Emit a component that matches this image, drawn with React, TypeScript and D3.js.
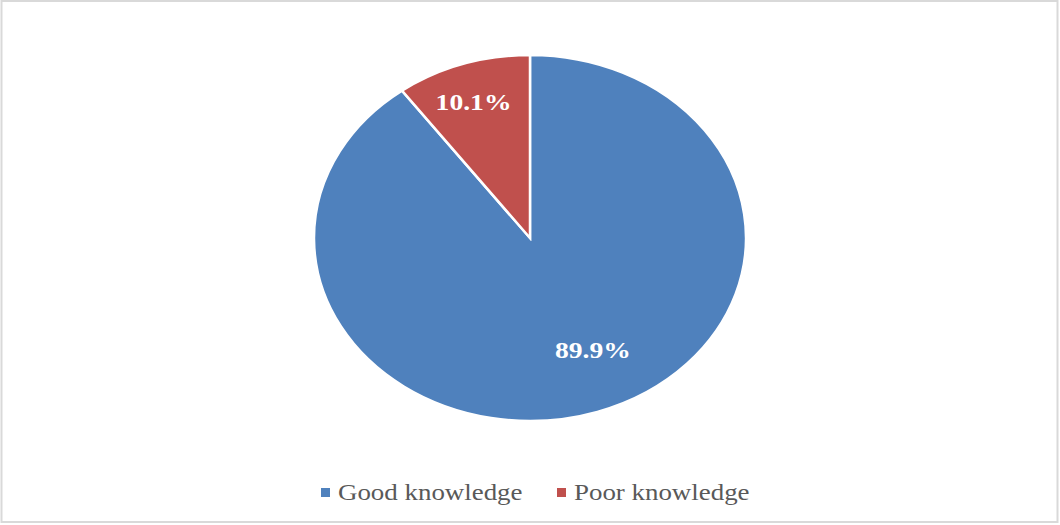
import React from "react";
import * as d3 from "d3";

const categories = ["Good knowledge", "Poor knowledge"];
const values = [89.9, 10.1];
const labels = ["89.9%", "10.1%"];
const colors = ["#4F81BD", "#C0504D"];

const W = 1060;
const H = 525;
const cx = 530;
const cy = 238;
const rx = 216;
const ry = 183;
const stretch = 1.17;
const labelFrac = [0.676, 0.79];
const labelAngleShift = [-0.128, -0.02];

export default function App() {
  const pie = d3.pie<number>().sort(null).value((d) => d);
  const arcs = pie(values);
  const arc = d3.arc<d3.PieArcDatum<number>>().innerRadius(0).outerRadius(rx);
  const sy = ry / rx;

  const legendX = [321, 557];
  return (
    <svg
      width={W}
      height={H}
      style={{ position: "absolute", left: 0, top: 0, background: "#fff" }}
      fontFamily="'Liberation Serif', 'Times New Roman', serif"
    >
      <rect x={1.5} y={1} width={1056} height={521} fill="#fff" stroke="#d9d9d9" strokeWidth={2} />
      <g transform={`translate(${cx},${cy}) scale(1,${sy})`}>
        {arcs.map((a, i) => (
          <path key={i} d={arc(a) || ""} fill={colors[i]} stroke="#fff" strokeWidth={2.5} vectorEffect="non-scaling-stroke" />
        ))}
      </g>
      {arcs.map((a, i) => {
        const mid = (a.startAngle + a.endAngle) / 2 + labelAngleShift[i];
        const r = rx * labelFrac[i];
        const x = r * Math.sin(mid);
        const y = -r * Math.cos(mid);
        return (
          <text
            key={i}
            transform={`translate(${cx + x},${cy + y * sy}) scale(1.2,1)`}
            textAnchor="middle"
            dominantBaseline="central"
            fill="#fff"
            fontWeight="bold"
            fontSize={23}
          >
            {labels[i]}
          </text>
        );
      })}
      {categories.map((c, i) => (
        <g key={c}>
          <rect x={legendX[i]} y={488} width={9} height={9} fill={colors[i]} />
          <text
            transform={`translate(${legendX[i] + 17},${500}) scale(${stretch},1)`}
            fill="#595959"
            fontSize={23}
          >
            {c}
          </text>
        </g>
      ))}
    </svg>
  );
}
